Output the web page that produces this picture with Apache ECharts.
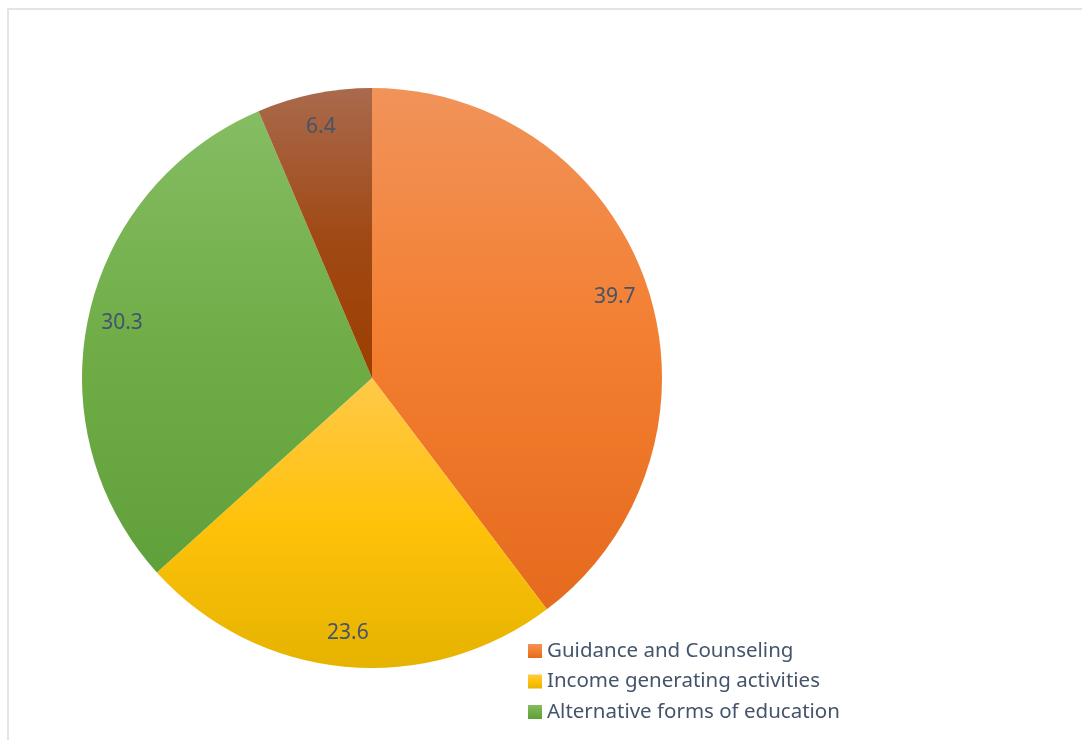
<!DOCTYPE html>
<html>
<head>
<meta charset="utf-8">
<script src="https://cdn.jsdelivr.net/npm/echarts@6/dist/echarts.min.js"></script>
<style>
  html, body { margin: 0; padding: 0; background: #fff; }
  #frame { position: absolute; left: 7px; top: 8px; width: 1100px; height: 760px; border-left: 2px solid #e1e4e9; border-top: 2px solid #e1e4e9; }
  #chart { position: absolute; left: 0; top: 0; width: 1082px; height: 740px; }
</style>
</head>
<body>
<div id="frame"></div>
<div id="chart"></div>
<script>
  // values
  var categories = ['Guidance and Counseling', 'Income generating activities', 'Alternative forms of education', 'Others'];
  var values = [39.7, 23.6, 30.3, 6.4];
  var legendItems = ['Guidance and Counseling', 'Income generating activities', 'Alternative forms of education'];

  var grads = [
    ['#f1935a', '#f37e2f', '#e56a1d'],
    ['#ffc949', '#ffc20a', '#e5b300'],
    ['#85bd63', '#70ad47', '#60a03a'],
    ['#a96a4d', '#a14a16', '#9b3e00']
  ];

  function grad (c) {
    return new echarts.graphic.LinearGradient(0, 0, 0, 1, [
      {offset: 0, color: c[0]},
      {offset: 0.5, color: c[1]},
      {offset: 1, color: c[2]}
    ]);
  }

  var data = [];
  var labelData = [];
  for (var i = 0; i < categories.length; i++) {
    data.push({name: categories[i], value: values[i], itemStyle: {color: grad(grads[i])}});
    labelData.push({name: categories[i], value: values[i]});
  }

  var myChart = echarts.init(document.getElementById('chart'));
  myChart.setOption({
    animation: false,
    legend: {
      orient: 'vertical',
      left: 528,
      top: 640,
      padding: 0,
      itemWidth: 14,
      itemHeight: 14,
      itemGap: 8.5,
      icon: 'rect',
      data: legendItems,
      textStyle: {
        color: '#44546a',
        fontFamily: 'Noto Sans',
        fontSize: 20.5,
        lineHeight: 22
      }
    },
    series: [{
      type: 'pie',
      center: [372, 378],
      radius: [0, 290],
      startAngle: 90,
      clockwise: true,
      silent: true,
      label: {show: false},
      labelLine: {show: false},
      itemStyle: {borderWidth: 0},
      data: data
    }, {
      // transparent ring only used to place the value labels near the rim
      type: 'pie',
      center: [372, 378],
      radius: [216, 290],
      startAngle: 90,
      clockwise: true,
      silent: true,
      legendHoverLink: false,
      itemStyle: {color: 'rgba(0,0,0,0)'},
      label: {
        show: true,
        position: 'inside',
        formatter: '{c}',
        color: '#44546a',
        fontFamily: 'Noto Sans',
        fontSize: 21
      },
      labelLine: {show: false},
      data: labelData
    }]
  });
</script>
</body>
</html>
